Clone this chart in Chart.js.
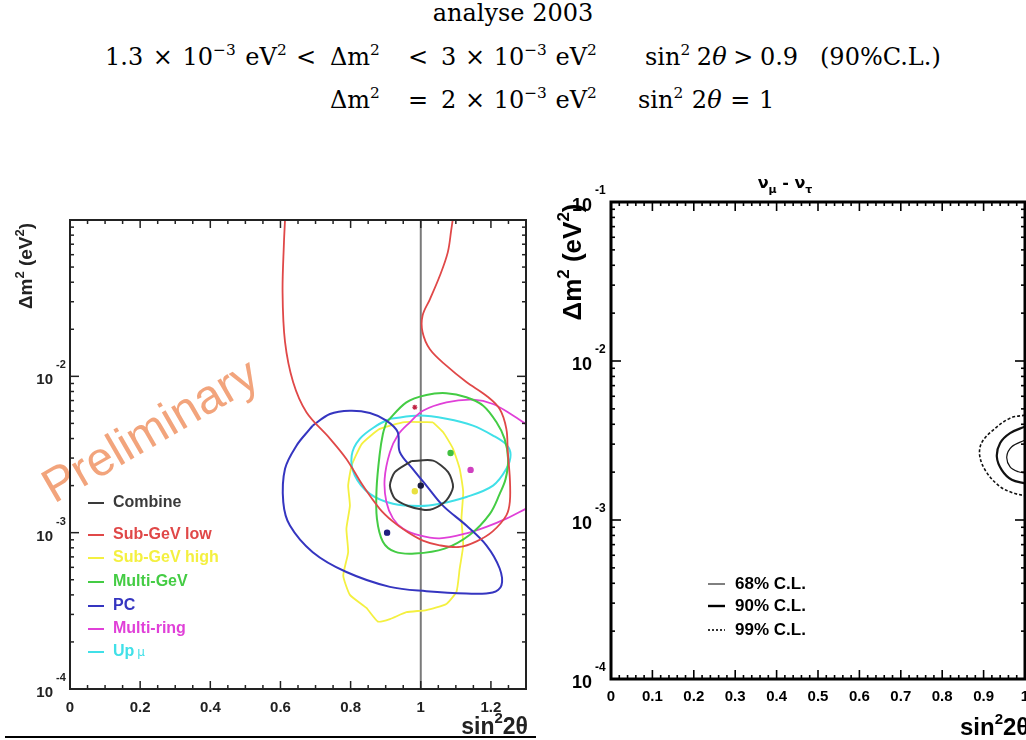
<!DOCTYPE html>
<html>
<head>
<meta charset="utf-8">
<script src="https://cdn.jsdelivr.net/npm/chart.js@4.4.1/dist/chart.umd.min.js"></script>
<style>
  html, body { margin: 0; padding: 0; background: #fff; width: 1026px; height: 740px; overflow: hidden; }
  body { position: relative; }
  .t { position: absolute; font-family: "DejaVu Serif", serif; color: #000; white-space: nowrap;
       font-size: 24px; line-height: 26px; word-spacing: 1px; }
  .t sup { font-size: 64%; vertical-align: 0.62em; line-height: 0; }
  .c { left: 0; width: 1026px; text-align: center; word-spacing: 0; }
  #left  { position: absolute; left: 0;     top: 160px; }
  #right { position: absolute; left: 540px; top: 160px; }
  #rule  { position: absolute; left: 5px; top: 736px; width: 531px; height: 2px; background: #000; }
</style>
</head>
<body>
<div class="t c" style="top:0">analyse 2003</div>

<span class="t" style="top:44px;left:105px;word-spacing:2px">1.3 × 10<sup>−3</sup> eV<sup>2</sup></span>
<span class="t" style="top:44px;left:296px">&lt;</span>
<span class="t" style="top:44px;left:330px">Δm<sup>2</sup></span>
<span class="t" style="top:44px;left:408px">&lt;</span>
<span class="t" style="top:44px;left:441px">3 × 10<sup>−3</sup> eV<sup>2</sup></span>
<span class="t" style="top:44px;left:645px;word-spacing:-1px">sin<sup>2</sup> 2<i>θ</i> &gt; 0.9</span>
<span class="t" style="top:44px;left:820px">(90%C.L.)</span>

<span class="t" style="top:87px;left:330px">Δm<sup>2</sup></span>
<span class="t" style="top:87px;left:408px">=</span>
<span class="t" style="top:87px;left:441px">2 × 10<sup>−3</sup> eV<sup>2</sup></span>
<span class="t" style="top:87px;left:638px">sin<sup>2</sup> 2<i>θ</i> = 1</span>

<canvas id="left" width="540" height="580"></canvas>
<canvas id="right" width="560" height="580"></canvas>
<div id="rule"></div>

<script>
// ===== DATA : left plot (SK atmospheric, analyse 2003) =====
const leftXLabels = [0, 0.2, 0.4, 0.6, 0.8, 1, 1.2];
const leftYExps = [-4, -3, -2];

const combineX = [0.973, 1.035, 1.078, 1.092, 1.073, 1.035, 1.007, 0.964, 0.926, 0.912, 0.926, 0.973];
const combineY = [0.00287, 0.00289, 0.00244, 0.00196, 0.00161, 0.00142, 0.00140, 0.00148, 0.00165, 0.00200, 0.00244, 0.00287];

const subLowX = [0.613, 0.610, 0.606, 0.613, 0.636, 0.674, 0.741, 0.788, 0.835, 0.883, 0.920, 0.959, 1.006, 1.054, 1.111, 1.159, 1.205,
                 1.244, 1.254, 1.254, 1.248, 1.244, 1.225, 1.187, 1.130, 1.073, 1.026, 1.005, 1.005, 1.026, 1.054, 1.077, 1.087, 1.091];
const subLowY = [0.1, 0.072, 0.0345, 0.0166, 0.0092, 0.0059, 0.0040, 0.00296, 0.0020, 0.00142, 0.00118, 0.00102, 0.00089, 0.00083, 0.00081, 0.00088, 0.00102,
                 0.00129, 0.00158, 0.00221, 0.00329, 0.00461, 0.00618, 0.00752, 0.0092, 0.0117, 0.0149, 0.0192, 0.0244, 0.0311, 0.0438, 0.0621, 0.0867, 0.1];

const subHighX = [1.035, 1.064, 1.092, 1.111, 1.121, 1.116, 1.121, 1.111, 1.102, 1.073, 1.016, 0.959, 0.912, 0.878, 0.845, 0.798, 0.779,
                  0.793, 0.788, 0.798, 0.793, 0.803, 0.832, 0.883, 0.954, 1.035];
const subHighY = [0.00508, 0.00439, 0.00344, 0.00256, 0.00182, 0.00123, 0.00083, 0.00059, 0.00042, 0.00035, 0.00032, 0.00031, 0.00028, 0.00027, 0.00033, 0.00040, 0.00053,
                  0.00075, 0.00106, 0.00149, 0.00200, 0.00269, 0.00370, 0.00461, 0.00510, 0.00508];

const multiGeVX = [0.902, 0.959, 1.016, 1.073, 1.130, 1.178, 1.216, 1.239, 1.249, 1.242, 1.225, 1.197, 1.140, 1.068, 0.983, 0.926, 0.892, 0.875, 0.874, 0.883, 0.892, 0.902];
const multiGeVY = [0.00508, 0.00682, 0.0076, 0.0078, 0.00735, 0.00649, 0.00508, 0.00398, 0.00296, 0.00221, 0.00177, 0.00132, 0.00097, 0.00079, 0.000735, 0.000756, 0.000876, 0.00123, 0.00191, 0.00319, 0.00428, 0.00508];

const pcX = [0.692, 0.741, 0.798, 0.855, 0.902, 0.934, 0.940, 0.977, 1.016, 1.063, 1.130, 1.187, 1.225, 1.230, 1.205, 1.130, 1.016, 0.912, 0.788, 0.692, 0.627, 0.608, 0.613, 0.646, 0.684, 0.692];
const pcY = [0.00484, 0.00574, 0.00603, 0.00583, 0.00521, 0.00441, 0.00329, 0.00256, 0.0020, 0.00149, 0.00111, 0.00083, 0.00059, 0.00046, 0.000414, 0.000408, 0.000422, 0.00045, 0.00056, 0.00075, 0.00111, 0.00157, 0.00256, 0.00361, 0.00461, 0.00484];

const multiRingX = [1.299, 1.244, 1.187, 1.130, 1.054, 0.997, 0.950, 0.921, 0.902, 0.897, 0.912, 0.935, 0.969, 1.006, 1.073, 1.149, 1.206, 1.263, 1.299];
const multiRingY = [0.00142, 0.00123, 0.00109, 0.00099, 0.00092, 0.00096, 0.00106, 0.00123, 0.00157, 0.00221, 0.00327, 0.00422, 0.00508, 0.00603, 0.00682, 0.00709, 0.00665, 0.00561, 0.00496];

const upMuX = [0.912, 0.997, 1.073, 1.149, 1.206, 1.244, 1.256, 1.244, 1.206, 1.130, 1.054, 0.997, 0.921, 0.855, 0.812, 0.803, 0.826, 0.874, 0.912];
const upMuY = [0.00535, 0.00561, 0.00535, 0.00484, 0.00418, 0.00365, 0.00315, 0.00256, 0.0020, 0.00169, 0.00153, 0.00148, 0.00153, 0.00177, 0.00232, 0.00311, 0.00398, 0.00484, 0.00535];

// best fit points: combine, sub-GeV low, sub-GeV high, multi-GeV, PC, multi-ring
const bestX = [1.0, 0.983, 0.983, 1.085, 0.904, 1.142];
const bestY = [0.0020, 0.00634, 0.00184, 0.00323, 0.00100, 0.00252];

const legendLabels = ["Combine", "Sub-GeV low", "Sub-GeV high", "Multi-GeV", "PC", "Multi-ring", "Up"];
const legendColors = ["#3a3a3a", "#e04848", "#f4f040", "#44cc44", "#3535c0", "#e040d8", "#40e0e8"];
const bestColors   = ["#1a1a40", "#c02040", "#e8e040", "#40c040", "#202080", "#d040c0"];

// ===== DATA : right plot (nu_mu - nu_tau) =====
const rightXLabels = [0, 0.1, 0.2, 0.3, 0.4, 0.5, 0.6, 0.7, 0.8, 0.9, 1];
const rightYExps = [-4, -3, -2, -1];

const cl99X = [1.0, 0.964, 0.923, 0.895, 0.891, 0.908, 0.940, 0.971, 1.0];
const cl99Y = [0.00457, 0.00437, 0.00368, 0.00305, 0.0025, 0.00198, 0.00162, 0.00148, 0.00142];
const cl90X = [1.0, 0.964, 0.940, 0.932, 0.944, 0.968, 1.0];
const cl90Y = [0.00387, 0.00352, 0.00305, 0.0025, 0.00206, 0.00179, 0.0017];
const cl68X = [1.0, 0.968, 0.956, 0.964, 0.984, 1.0];
const cl68Y = [0.00318, 0.00289, 0.0025, 0.00216, 0.00201, 0.00198];

const clLabels = ["68% C.L.", "90% C.L.", "99% C.L."];

// ===== helpers =====
const pts = (xs, ys) => xs.map((x, i) => ({ x, y: ys[i] }));

function contour(xs, ys, color, width, tension, dash) {
  return {
    data: pts(xs, ys), showLine: true, borderColor: color, borderWidth: width,
    pointRadius: 0, tension: tension, borderDash: dash || [], fill: false
  };
}

function seg(ctx, x1, y1, x2, y2) {
  ctx.beginPath(); ctx.moveTo(x1, y1); ctx.lineTo(x2, y2); ctx.stroke();
}

// draw pieces of text one after another: [text, font, dy]
function rich(ctx, x, y, parts) {
  ctx.textAlign = "left";
  parts.forEach(([t, f, dy]) => {
    ctx.font = f;
    ctx.fillText(t, x, y + (dy || 0));
    x += ctx.measureText(t).width;
  });
  return x;
}
function richWidth(ctx, parts) {
  let w = 0;
  parts.forEach(([t, f]) => { ctx.font = f; w += ctx.measureText(t).width; });
  return w;
}

// frame, inward ticks and tick labels from the chart's scales
const framePlugin = {
  id: "frame",
  afterDatasetsDraw(chart, args, o) {
    const { ctx, chartArea: a, scales: { x, y } } = chart;
    ctx.save();
    ctx.strokeStyle = o.color;
    ctx.fillStyle = o.color;
    ctx.lineWidth = o.tickWidth;
    o.xTicks.forEach(([v, len]) => {
      const px = x.getPixelForValue(v);
      seg(ctx, px, a.bottom, px, a.bottom - len);
      seg(ctx, px, a.top, px, a.top + len);
    });
    o.yTicks.forEach(([v, len]) => {
      const py = y.getPixelForValue(v);
      seg(ctx, a.left, py, a.left + len, py);
      seg(ctx, a.right, py, a.right - len, py);
    });
    ctx.lineWidth = o.lineWidth;
    ctx.strokeRect(a.left, a.top, a.right - a.left, a.bottom - a.top);

    ctx.textBaseline = "middle";
    ctx.textAlign = "center";
    ctx.font = o.font;
    o.xLabels.forEach(v => ctx.fillText(String(v), x.getPixelForValue(v), a.bottom + o.xGap));
    o.yExps.forEach(e => {
      const py = y.getPixelForValue(Math.pow(10, e));
      ctx.textAlign = "right"; ctx.font = o.yFont;
      ctx.fillText("10", a.left - o.yGap, py + 4);
      ctx.textAlign = "left"; ctx.font = o.supFont;
      ctx.fillText(String(e), a.left - o.yGap + 3, py - 11);
    });
    ctx.restore();
  }
};

// ===== LEFT CHART =====
const leftXTicks = [];
for (let i = 0; i <= 26; i++) leftXTicks.push([i * 0.05, i % 4 === 0 ? 8 : 4]);
const leftYTicks = [[0.1, 8]];
for (let e = -4; e <= -2; e++) for (let m = 1; m <= 9; m++) leftYTicks.push([m * Math.pow(10, e), m === 1 ? 9 : 4]);

const leftDecor = {
  id: "leftDecor",
  beforeDatasetsDraw(chart) {
    const { ctx } = chart;
    ctx.save();
    ctx.translate(158, 284);
    ctx.rotate(-30 * Math.PI / 180);
    ctx.fillStyle = "#f2a47c";
    ctx.font = "48px 'Liberation Sans', Arial, sans-serif";
    ctx.textAlign = "center";
    ctx.textBaseline = "alphabetic";
    ctx.fillText("Preliminary", 0, 0);
    ctx.restore();
  },
  afterDraw(chart) {
    const { ctx } = chart;
    ctx.save();
    // legend
    const rows = [343, 375, 398, 422, 446, 469, 492];
    ctx.textBaseline = "middle";
    legendLabels.forEach((lab, i) => {
      ctx.strokeStyle = legendColors[i];
      ctx.fillStyle = legendColors[i];
      ctx.lineWidth = 2;
      seg(ctx, 88, rows[i], 104, rows[i]);
      const end = rich(ctx, 113, rows[i], [[lab, "bold 16px 'Liberation Sans', Arial, sans-serif", 0]]);
      if (lab === "Up") rich(ctx, end + 3, rows[i], [["μ", "12px 'DejaVu Sans', sans-serif", 1]]);
    });
    // axis titles
    ctx.fillStyle = "#222";
    ctx.textBaseline = "alphabetic";
    const bold = "bold 19px 'Liberation Sans', Arial, sans-serif";
    const sup = "bold 13px 'Liberation Sans', Arial, sans-serif";
    const yParts = [["Δm", bold, 0], ["2", sup, -8], [" (eV", bold, 0], ["2", sup, -8], [")", bold, 0]];
    ctx.save();
    ctx.translate(32, 106);
    ctx.rotate(-Math.PI / 2);
    rich(ctx, -richWidth(ctx, yParts) / 2, 0, yParts);
    ctx.restore();
    const xb = "bold 23px 'Liberation Sans', Arial, sans-serif";
    const xs = "bold 15px 'Liberation Sans', Arial, sans-serif";
    const xParts = [["sin", xb, 0], ["2", xs, -11], ["2θ", xb, 0]];
    rich(ctx, 528 - richWidth(ctx, xParts), 574, xParts);
    ctx.restore();
  }
};

new Chart(document.getElementById("left"), {
  type: "scatter",
  data: {
    datasets: [
      { data: pts(bestX, bestY), pointRadius: 2.6, pointStyle: ["circle", "star", "circle", "circle", "circle", "circle"],
        pointBackgroundColor: bestColors, pointBorderColor: bestColors, pointBorderWidth: 1.2 },
      contour(combineX, combineY, "#3a3a3a", 2, 0.25),
      contour(subLowX, subLowY, "#e04848", 1.8, 0.35),
      contour(pcX, pcY, "#3535c0", 2, 0.35),
      contour(multiGeVX, multiGeVY, "#44cc44", 2, 0.35),
      contour(multiRingX, multiRingY, "#e040d8", 1.8, 0.35),
      contour(upMuX, upMuY, "#40e0e8", 2, 0.35),
      contour(subHighX, subHighY, "#f4f040", 1.8, 0.15),
      { data: [{ x: 1, y: 1e-4 }, { x: 1, y: 0.1 }], showLine: true, borderColor: "#7a7a7a", borderWidth: 2, pointRadius: 0 }
    ]
  },
  options: {
    responsive: false,
    animation: false,
    devicePixelRatio: 1,
    layout: { padding: { left: 70, top: 60, right: 14, bottom: 51 } },
    scales: {
      x: { type: "linear", min: 0, max: 1.3, display: false },
      y: { type: "logarithmic", min: 1e-4, max: 1e-1, display: false }
    },
    plugins: {
      legend: { display: false },
      tooltip: { enabled: false },
      frame: {
        color: "#222", lineWidth: 2, tickWidth: 1.5,
        xTicks: leftXTicks, yTicks: leftYTicks,
        xLabels: leftXLabels, yExps: leftYExps,
        font: "bold 15px 'Liberation Sans', Arial, sans-serif",
        yFont: "bold 15px 'Liberation Sans', Arial, sans-serif",
        supFont: "bold 11px 'Liberation Sans', Arial, sans-serif",
        xGap: 19, yGap: 17
      }
    }
  },
  plugins: [framePlugin, leftDecor]
});

// ===== RIGHT CHART =====
const rightXTicks = [];
for (let i = 0; i <= 50; i++) rightXTicks.push([i * 0.02, i % 5 === 0 ? 9 : 4]);
const rightYTicks = [[0.1, 9]];
for (let e = -4; e <= -2; e++) for (let m = 1; m <= 9; m++) rightYTicks.push([m * Math.pow(10, e), m === 1 ? 10 : 4]);

const rightDecor = {
  id: "rightDecor",
  afterDraw(chart) {
    const { ctx } = chart;
    ctx.save();
    ctx.fillStyle = "#000";
    ctx.strokeStyle = "#000";
    ctx.textBaseline = "middle";
    // C.L. legend
    const rows = [424, 446, 470];
    const styles = [[1, []], [2.4, []], [1.6, [2, 2]]];
    clLabels.forEach((lab, i) => {
      ctx.lineWidth = styles[i][0];
      ctx.setLineDash(styles[i][1]);
      seg(ctx, 168, rows[i], 185, rows[i]);
      ctx.setLineDash([]);
      rich(ctx, 195, rows[i], [[lab, "bold 17px 'Liberation Sans', Arial, sans-serif", 0]]);
    });
    ctx.textBaseline = "alphabetic";
    // title nu_mu - nu_tau
    const tb = "bold 16px 'DejaVu Sans', sans-serif";
    const ts = "bold 11px 'DejaVu Sans', sans-serif";
    const tParts = [["ν", tb, 0], ["μ", ts, 5], [" - ", tb, 0], ["ν", tb, 0], ["τ", ts, 5]];
    rich(ctx, 245 - richWidth(ctx, tParts) / 2, 28, tParts);
    // y title
    const yb = "bold 26px 'Liberation Sans', Arial, sans-serif";
    const ys = "bold 17px 'Liberation Sans', Arial, sans-serif";
    const yParts = [["Δm", yb, 0], ["2", ys, -12], [" (eV", yb, 0], ["2", ys, -12], [")", yb, 0]];
    ctx.save();
    ctx.translate(41, 102);
    ctx.rotate(-Math.PI / 2);
    rich(ctx, -richWidth(ctx, yParts) / 2, 0, yParts);
    ctx.restore();
    // x title
    const xb = "bold 24px 'Liberation Sans', Arial, sans-serif";
    const xs = "bold 15px 'Liberation Sans', Arial, sans-serif";
    rich(ctx, 420, 575, [["sin", xb, 0], ["2", xs, -11], ["2θ", xb, 0]]);
    ctx.restore();
  }
};

new Chart(document.getElementById("right"), {
  type: "scatter",
  data: {
    datasets: [
      contour(cl68X, cl68Y, "#111", 1.2, 0.35),
      contour(cl90X, cl90Y, "#111", 2.2, 0.35),
      contour(cl99X, cl99Y, "#111", 1.6, 0.35, [3, 2])
    ]
  },
  options: {
    responsive: false,
    animation: false,
    devicePixelRatio: 1,
    layout: { padding: { left: 71, top: 42, right: 75, bottom: 61 } },
    scales: {
      x: { type: "linear", min: 0, max: 1, display: false },
      y: { type: "logarithmic", min: 1e-4, max: 1e-1, display: false }
    },
    plugins: {
      legend: { display: false },
      tooltip: { enabled: false },
      frame: {
        color: "#000", lineWidth: 3, tickWidth: 1.6,
        xTicks: rightXTicks, yTicks: rightYTicks,
        xLabels: rightXLabels, yExps: rightYExps,
        font: "bold 15px 'Liberation Sans', Arial, sans-serif",
        yFont: "bold 18px 'Liberation Sans', Arial, sans-serif",
        supFont: "bold 12px 'Liberation Sans', Arial, sans-serif",
        xGap: 18, yGap: 19
      }
    }
  },
  plugins: [framePlugin, rightDecor]
});
</script>
</body>
</html>
